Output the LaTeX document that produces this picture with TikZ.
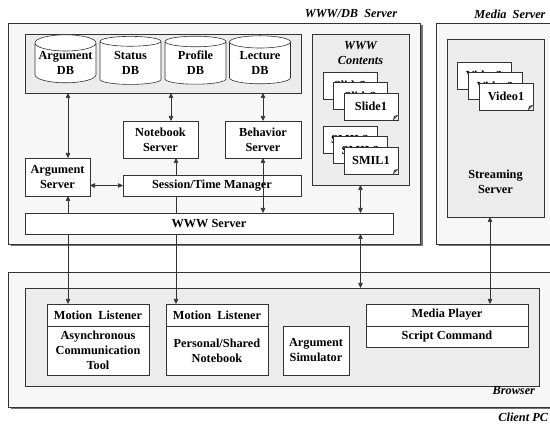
\documentclass[tikz,border=0pt]{standalone}
\usepackage{fontspec}
\setmainfont{Liberation Serif}
\usetikzlibrary{arrows.meta,shapes.geometric,shadows,calc}
\definecolor{outerfill}{gray}{0.97}
\definecolor{panelfill}{gray}{0.925}
\definecolor{linec}{gray}{0.2}
\begin{document}
\begin{tikzpicture}[x=1pt,y=-1pt,
  txt/.style={font=\fontsize{12.3}{15}\selectfont\bfseries, inner sep=0pt, outer sep=0pt, align=center},
  box/.style={txt, draw=linec, fill=white, line width=0.6pt},
  outerbox/.style={draw=linec, fill=outerfill, line width=0.6pt, inner sep=0pt, outer sep=0pt,
     general shadow={fill=black!55, shadow xshift=2.5pt, shadow yshift=-2.5pt}},
  panel/.style={draw=linec, fill=panelfill, line width=0.6pt, inner sep=0pt, outer sep=0pt},
  lab/.style={font=\fontsize{12.3}{15}\selectfont\bfseries\itshape, inner sep=0pt, outer sep=0pt, align=center},
  db/.style={txt, cylinder, shape border rotate=90, aspect=0.3, draw=linec, fill=white, line width=0.6pt,
     minimum width=61pt, minimum height=48pt},
  page/.style={box, minimum width=54pt, minimum height=27pt},
  dar/.style={{Triangle[length=5pt,width=4.5pt]}-{Triangle[length=5pt,width=4.5pt]}, line width=0.6pt, draw=linec},
]
\useasboundingbox (0,0) rectangle (550,425);

% outer machines
\node[outerbox, minimum width=412pt, minimum height=221pt] (wwwdb) at (214,133.5) {};
\node[outerbox, minimum width=117pt, minimum height=221pt] (media) at (494.5,133.5) {};
\node[outerbox, minimum width=545pt, minimum height=135pt] (client) at (280.5,339.5) {};
\node[lab] (wwwdblab) at (351,14) {WWW/DB\ \ Server};
\node[lab] (medialab) at (510,14) {Media\ \ Server};
\node[lab, anchor=east] (clientlab) at (548,417) {Client PC};

% panels
\node[panel, minimum width=276pt, minimum height=59pt] (dbbox) at (163,63.5) {};
\node[panel, minimum width=97pt, minimum height=151pt] (contents) at (360.5,109.5) {};
\node[panel, minimum width=97pt, minimum height=178pt] (stream) at (495.5,128) {};
\node[panel, minimum width=514pt, minimum height=98pt] (browser) at (282,337) {};
\node[lab] (contlab) at (360.5,53.5) {WWW\\Contents};
\node[txt] (streamlab) at (495.5,181.5) {Streaming\\Server};
\node[lab, anchor=east] (browserlab) at (535,391) {Browser};

% databases
\node[db] (argdb) at (65.5,63) {Argument\\DB};
\node[db] (statdb) at (130.5,63) {Status\\DB};
\node[db] (profdb) at (195.5,63) {Profile\\DB};
\node[db] (lectdb) at (260,63) {Lecture\\DB};

% servers
\node[box, minimum width=75pt, minimum height=37pt] (nb) at (160.5,139.5) {Notebook\\Server};
\node[box, minimum width=76pt, minimum height=37pt] (beh) at (263,139.5) {Behavior\\Server};
\node[box, minimum width=65pt, minimum height=38pt] (argsrv) at (57.5,177) {Argument\\Server};

% client boxes
\node[box, minimum width=102pt, minimum height=22pt] (ml1h) at (98,315) {Motion\ \ Listener};
\node[box, minimum width=102pt, minimum height=49pt] (ml1b) at (98,350.5) {Asynchronous\\Communication\\Tool};
\node[box, minimum width=102pt, minimum height=22pt] (ml2h) at (217,315) {Motion\ \ Listener};
\node[box, minimum width=102pt, minimum height=49pt] (ml2b) at (217,350.5) {Personal/Shared\\Notebook};
\node[box, minimum width=66pt, minimum height=49pt] (argsim) at (316,350.5) {Argument\\Simulator};
\node[box, minimum width=162pt, minimum height=22pt] (mph) at (447,315) {Media Player};
\node[box, minimum width=162pt, minimum height=21pt] (mpb) at (447,336.5) {Script Command};

% long connectors (partly hidden behind boxes)
\draw[dar] ([xshift=10.5pt]argsrv.south) -- ([xshift=10.5pt]argsrv.south |- ml1h.north);
\draw[dar] ([xshift=15.5pt]nb.south) -- ([xshift=15.5pt]nb.south |- ml2h.north);
\draw[dar] ([xshift=-5.5pt]stream.south) -- ([xshift=-5.5pt]stream.south |- mph.north);

% middle boxes drawn over the lines
\node[box, minimum width=178pt, minimum height=21pt] (sess) at (212,185.5) {Session/Time Manager};
\node[box, minimum width=368pt, minimum height=21pt] (www) at (209,223.5) {WWW Server};

% short connectors
\draw[dar] ([xshift=10.5pt]argsrv.north) -- ([xshift=10.5pt]argsrv.north |- dbbox.south);
\draw[dar] ([xshift=10.5pt]nb.north) -- ([xshift=10.5pt]nb.north |- dbbox.south);
\draw[dar] (beh.north) -- (beh.north |- dbbox.south);
\draw[dar] (beh.south) -- (beh.south |- www.north);
\draw[dar] (sess.west -| argsrv.east) -- (sess.west);
\draw[dar] (contents.south) -- (contents.south |- www.north);
\draw[dar] (www.south -| contents.south) -- (browser.north -| contents.south);

% slide stacks
\node[page] (sl3) at (350,85.5) {Slide3};
\node[page] (sl2) at (360.5,96) {Slide2};
\node[page] (sl1) at (371,106.5) {Slide1};
\node[page] (sm3) at (350,139.5) {SMIL3};
\node[page] (sm2) at (360.5,150) {SMIL2};
\node[page] (sm1) at (371,160.5) {SMIL1};
\node[page] (vd3) at (484,75.5) {Video3};
\node[page] (vd2) at (495,86) {Video2};
\node[page] (vd1) at (506,96.5) {Video1};
\foreach \p/\bg in {sl1/panelfill, sm1/panelfill, vd1/panelfill}{
  \fill[\bg] ([xshift=-5pt]\p.south east) -- (\p.south east) -- ([yshift=5pt]\p.south east) -- cycle;
  \draw[linec, line width=0.6pt] ([xshift=-5pt]\p.south east) -- ([yshift=5pt]\p.south east);
  \fill[black!70] ([xshift=-5pt]\p.south east) -- ([yshift=5pt]\p.south east) -- ([xshift=-4pt,yshift=4pt]\p.south east) -- cycle;
}
\end{tikzpicture}
\end{document}
